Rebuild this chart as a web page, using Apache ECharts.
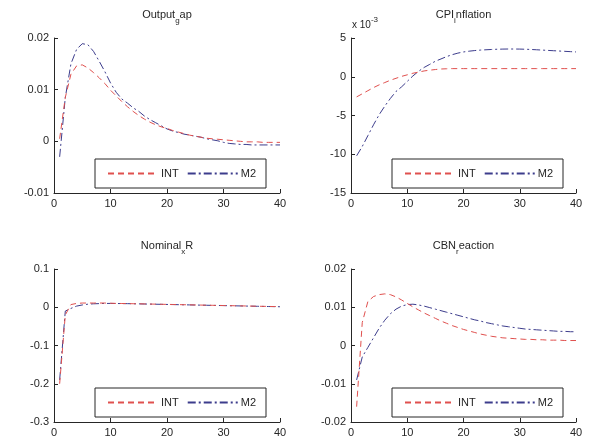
<!DOCTYPE html>
<html>
<head>
<meta charset="utf-8">
<script src="https://cdn.jsdelivr.net/npm/echarts@6/dist/echarts.min.js"></script>
<style>
	html, body { margin: 0; padding: 0; background: #fff; }
	#main { width: 589px; height: 444px; }
</style>
</head>
<body>
<div id="main"></div>
<script>
	'use strict';
	var periods = [1, 2, 3, 4, 5, 6, 7, 8, 9, 10, 11, 12, 13, 14, 15, 16, 17, 18, 19, 20,
		21, 22, 23, 24, 25, 26, 27, 28, 29, 30, 31, 32, 33, 34, 35, 36, 37, 38, 39, 40];
	var xTicks = [0, 10, 20, 30, 40];

	var outputInt = [0.0005, 0.0085, 0.013, 0.0146, 0.0148, 0.0142, 0.0133, 0.0123, 0.0112, 0.0099,
		0.0088, 0.0077, 0.0067, 0.0058, 0.005, 0.0043, 0.0037, 0.0032, 0.0028, 0.0025,
		0.0021, 0.0018, 0.0015, 0.0012, 0.001, 0.0008, 0.0006, 0.0005, 0.0004, 0.0003,
		0.0002, 0.0001, 0, -0.0001, -0.0001, -0.0001, -0.0002, -0.0002, -0.0002, -0.0002];
	var outputM2 = [-0.003, 0.0085, 0.015, 0.0178, 0.0189, 0.0187, 0.0174, 0.0155, 0.0135, 0.0113,
		0.0095, 0.0082, 0.0074, 0.0065, 0.0058, 0.0049, 0.0042, 0.0036, 0.003, 0.0024,
		0.002, 0.0017, 0.0014, 0.0012, 0.001, 0.0008, 0.0005, 0.0003, 0.0001, -0.0002,
		-0.0004, -0.0005, -0.0006, -0.0006, -0.0007, -0.0007, -0.0007, -0.0007, -0.0007, -0.0007];

	// CPI values are in units of 1e-3 (the axis shows "x 10^-3")
	var cpiInt = [-2.6, -2.2, -1.8, -1.4, -1.05, -0.75, -0.45, -0.2, 0.05, 0.25,
		0.45, 0.6, 0.75, 0.85, 0.93, 1.0, 1.03, 1.05, 1.05, 1.05,
		1.05, 1.05, 1.05, 1.05, 1.05, 1.05, 1.05, 1.05, 1.05, 1.05,
		1.05, 1.05, 1.05, 1.05, 1.05, 1.05, 1.05, 1.05, 1.05, 1.05];
	var cpiM2 = [-10.2, -9.0, -7.6, -6.2, -4.9, -3.8, -2.8, -1.9, -1.3, -0.6,
		0.1, 0.7, 1.2, 1.6, 2.0, 2.3, 2.6, 2.85, 3.05, 3.2,
		3.3, 3.38, 3.44, 3.48, 3.52, 3.55, 3.57, 3.58, 3.58, 3.57,
		3.55, 3.52, 3.48, 3.44, 3.4, 3.36, 3.32, 3.28, 3.24, 3.2];

	var nomRInt = [-0.2, -0.02, 0.007, 0.01, 0.011, 0.011, 0.011, 0.011, 0.011, 0.0105,
		0.01, 0.0098, 0.0095, 0.0092, 0.009, 0.0087, 0.0084, 0.0081, 0.0078, 0.0075,
		0.0072, 0.0069, 0.0066, 0.0063, 0.006, 0.0057, 0.0054, 0.0051, 0.0048, 0.0045,
		0.0042, 0.0039, 0.0036, 0.0033, 0.003, 0.0027, 0.0024, 0.0021, 0.0018, 0.0015];
	var nomRM2 = [-0.19, -0.01, -0.003, 0.003, 0.006, 0.008, 0.009, 0.0095, 0.01, 0.01,
		0.0098, 0.0096, 0.0094, 0.0091, 0.0088, 0.0085, 0.0082, 0.0079, 0.0076, 0.0073,
		0.007, 0.0067, 0.0064, 0.0061, 0.0058, 0.0055, 0.0052, 0.0049, 0.0046, 0.0043,
		0.004, 0.0037, 0.0034, 0.0031, 0.0028, 0.0025, 0.0022, 0.0019, 0.0016, 0.0013];

	var cbnInt = [-0.016, 0.006, 0.0115, 0.0128, 0.0133, 0.0135, 0.0133, 0.0127, 0.0119, 0.011,
		0.0101, 0.0093, 0.0085, 0.0078, 0.0071, 0.0064, 0.0058, 0.0052, 0.0047, 0.0042,
		0.0038, 0.0034, 0.003, 0.0027, 0.0024, 0.0022, 0.002, 0.0019, 0.0018, 0.0017,
		0.0016, 0.0016, 0.0015, 0.0015, 0.0014, 0.0014, 0.0014, 0.0013, 0.0013, 0.0013];
	var cbnM2 = [-0.009, -0.003, -0.0005, 0.002, 0.0045, 0.0066, 0.0083, 0.0095, 0.0103, 0.0107,
		0.0108, 0.0106, 0.0103, 0.0099, 0.0095, 0.0091, 0.0087, 0.0083, 0.0079, 0.0075,
		0.0071, 0.0067, 0.0064, 0.006, 0.0057, 0.0054, 0.0051, 0.0049, 0.0047, 0.0045,
		0.0043, 0.0042, 0.0041, 0.004, 0.0039, 0.0038, 0.0037, 0.0037, 0.0036, 0.0036];

	var yTicksOutput = [-0.01, 0, 0.01, 0.02];
	var yTicksCpi = [-15, -10, -5, 0, 5];
	var yTicksNomR = [-0.3, -0.2, -0.1, 0, 0.1];
	var yTicksCbn = [-0.02, -0.01, 0, 0.01, 0.02];

	var seriesNames = ['INT', 'M2'];
	// title pieces: main text, subscript char, rest (MATLAB turned "_x" into a subscript)
	var titles = [
		['Output', 'g', 'ap'],
		['CPI', 'i', 'nflation'],
		['Nominal', 'x', 'R'],
		['CBN', 'r', 'eaction']
	];

	var FONT = 'Liberation Sans, Arial, sans-serif';
	var INK = '#262626';
	var INT_COLOR = '#e0504e';
	var M2_COLOR = '#3c3c8c';

	var panels = [
		{ grid: { left: 54, top: 38, width: 226, height: 155 }, ticks: yTicksOutput, step: 0.01, a: outputInt, b: outputM2 },
		{ grid: { left: 351, top: 38, width: 225, height: 155 }, ticks: yTicksCpi, step: 5, a: cpiInt, b: cpiM2 },
		{ grid: { left: 54, top: 269, width: 226, height: 153 }, ticks: yTicksNomR, step: 0.1, a: nomRInt, b: nomRM2 },
		{ grid: { left: 351, top: 269, width: 225, height: 153 }, ticks: yTicksCbn, step: 0.01, a: cbnInt, b: cbnM2 }
	];

	function pairs(vals) {
		var out = [];
		for (var i = 0; i < periods.length; i++) {
			out.push([periods[i], vals[i]]);
		}
		return out;
	}

	function axisCommon() {
		return {
			axisLine: { show: true, onZero: false, lineStyle: { color: INK, width: 1 } },
			axisTick: { show: true, inside: true, length: 4, lineStyle: { color: INK } },
			axisLabel: { color: INK, fontFamily: FONT, fontSize: 11, margin: 5 },
			splitLine: { show: false }
		};
	}

	var grids = [], xAxes = [], yAxes = [], series = [], legends = [], graphics = [];

	panels.forEach(function(p, i) {
		grids.push(p.grid);
		var xa = axisCommon();
		xa.type = 'value';
		xa.gridIndex = i;
		xa.min = xTicks[0];
		xa.max = xTicks[xTicks.length - 1];
		xa.interval = 10;
		xAxes.push(xa);

		var ya = axisCommon();
		ya.type = 'value';
		ya.gridIndex = i;
		ya.min = p.ticks[0];
		ya.max = p.ticks[p.ticks.length - 1];
		ya.interval = p.step;
		ya.axisLabel.formatter = function(v) {
			return String(Math.round(v * 1000) / 1000);
		};
		yAxes.push(ya);

		series.push({
			name: seriesNames[0], type: 'line', xAxisIndex: i, yAxisIndex: i,
			data: pairs(p.a), showSymbol: false, symbol: 'none',
			lineStyle: { color: INT_COLOR, width: 1, type: [6, 4] },
			itemStyle: { color: INT_COLOR }, z: 3
		});
		series.push({
			name: seriesNames[1], type: 'line', xAxisIndex: i, yAxisIndex: i,
			data: pairs(p.b), showSymbol: false, symbol: 'none',
			lineStyle: { color: M2_COLOR, width: 1, type: [8, 3, 2, 3] },
			itemStyle: { color: M2_COLOR }, z: 2
		});

		var g = p.grid;
		legends.push({
			data: seriesNames,
			left: g.left + 41,
			top: g.top + g.height - 34,
			orient: 'horizontal',
			backgroundColor: '#fff',
			borderColor: INK,
			borderWidth: 1,
			borderRadius: 0,
			padding: [9, 10, 9, 12],
			itemWidth: 50,
			itemHeight: 12,
			itemGap: 8,
			selectedMode: false,
			itemStyle: { opacity: 0 },
			textStyle: { color: INK, fontFamily: FONT, fontSize: 11, padding: [0, 0, 0, -2] }
		});

		var t = titles[i];
		graphics.push({
			type: 'text',
			x: g.left + g.width / 2,
			y: g.top - 29,
			style: {
				text: '{a|' + t[0] + '}{s|' + t[1] + '}{a|' + t[2] + '}',
				align: 'center',
				fill: INK,
				rich: {
					a: { fontFamily: FONT, fontSize: 11, lineHeight: 14, verticalAlign: 'top', fill: INK },
					s: { fontFamily: FONT, fontSize: 8, lineHeight: 8, padding: [8, 0, 0, 0], verticalAlign: 'top', fill: INK }
				}
			}
		});
	});

	// the "x 10^-3" multiplier above the CPI panel
	graphics.push({
		type: 'text',
		x: 352,
		y: 16,
		style: {
			text: '{a|x 10}{s|-3}',
			fill: INK,
			rich: {
				a: { fontFamily: FONT, fontSize: 10, lineHeight: 14, verticalAlign: 'bottom', padding: [6, 0, 0, 0], fill: INK },
				s: { fontFamily: FONT, fontSize: 8, lineHeight: 8, verticalAlign: 'top', fill: INK }
			}
		}
	});

	var chart = echarts.init(document.getElementById('main'), null, { renderer: 'canvas' });
	chart.setOption({
		animation: false,
		backgroundColor: '#fff',
		grid: grids,
		xAxis: xAxes,
		yAxis: yAxes,
		series: series,
		legend: legends,
		graphic: graphics
	});
</script>
</body>
</html>
